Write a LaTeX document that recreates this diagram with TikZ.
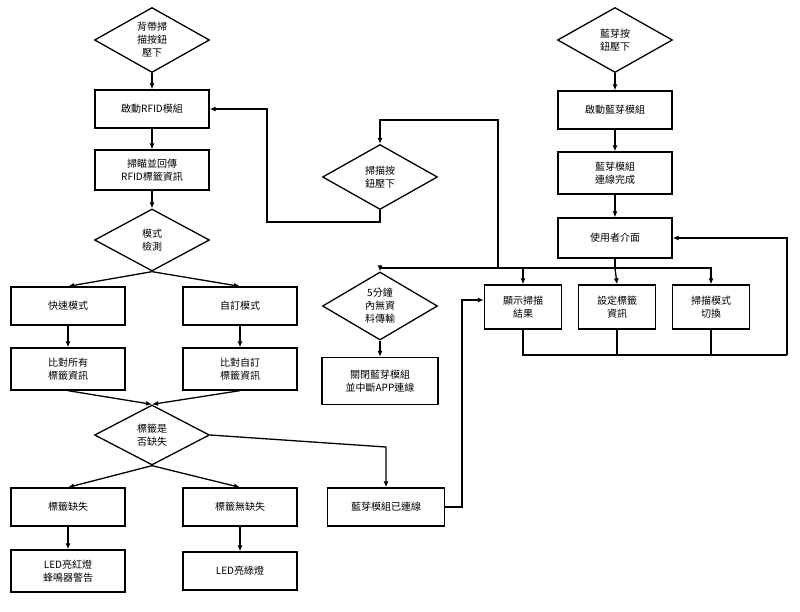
\documentclass[tikz,border=0pt]{standalone}
\usepackage{fontspec}
\setmainfont{Noto Sans CJK TC}
\usetikzlibrary{shapes.geometric,arrows.meta}
\begin{document}
\begin{tikzpicture}[x=1pt,y=-1pt,line width=1.3pt,
 box/.style={draw,rectangle,minimum width=114pt,minimum height=38pt,align=center,font=\fontsize{10}{13}\selectfont,inner sep=1pt},
 sbox/.style={box,minimum width=77pt,minimum height=44pt},
 dia/.style={draw,diamond,aspect=1.75,minimum width=115pt,minimum height=65pt,align=center,font=\fontsize{10}{13}\selectfont,inner sep=0pt},
 arr/.style={-{Latex[length=6pt,width=5pt]}}]
\useasboundingbox (0,0) rectangle (800,611);
\node[dia] (d1) at (152,40) {背帶掃\\描按鈕\\壓下};
\node[box] (b1) at (152,109) {啟動RFID模組};
\node[box,minimum height=40pt] (b2) at (152,170) {掃瞄並回傳\\RFID標籤資訊};
\node[dia,minimum height=62pt] (d2) at (152,240) {模式\\檢測};
\node[box] (b3) at (68,306) {快速模式};
\node[box] (b4) at (240,306) {自訂模式};
\node[box,minimum height=42pt] (b5) at (68,369) {比對所有\\標籤資訊};
\node[box,minimum height=42pt] (b6) at (240,369) {比對自訂\\標籤資訊};
\node[dia,minimum height=60pt] (d3) at (152,435) {標籤是\\否缺失};
\node[box] (b7) at (68,507) {標籤缺失};
\node[box] (b8) at (240,507) {標籤無缺失};
\node[box,minimum height=42pt] (b9) at (68,571) {LED亮紅燈\\蜂鳴器警告};
\node[box] (b10) at (240,571) {LED亮綠燈};
\node[box,minimum width=117pt] (b11) at (386,507) {藍芽模組已連線};
\node[dia] (d4) at (380,177) {掃描按\\鈕壓下};
\node[dia,minimum height=68pt] (d5) at (380,306) {5分鐘\\內無資\\料傳輸};
\node[box,minimum width=116pt,minimum height=47pt] (b12) at (380,381) {關閉藍芽模組\\並中斷APP連線};
\node[dia] (d6) at (615,40) {藍芽按\\鈕壓下};
\node[box] (b13) at (615,110) {啟動藍芽模組};
\node[box,minimum height=42pt] (b14) at (615,173) {藍芽模組\\連線完成};
\node[box,minimum height=40pt] (b15) at (615,238) {使用者介面};
\node[sbox] (s1) at (523,307) {顯示掃描\\結果};
\node[sbox] (s2) at (617,307) {設定標籤\\資訊};
\node[sbox] (s3) at (711,307) {掃描模式\\切換};
\coordinate (bus) at (615,268);
\draw[arr] (d1) -- (b1);
\draw[arr] (b1) -- (b2);
\draw[arr] (b2) -- (d2);
\draw[arr] (d2.south) -- (b3.north);
\draw[arr] (d2.south) -- (b4.north);
\draw[arr] (b5.south) -- (d3.north);
\draw[arr] (b6.south) -- (d3.north);
\draw[arr] (b3) -- (b5);
\draw[arr] (b4) -- (b6);
\draw[arr] (d3.south) -- (b7.north);
\draw[arr] (d3.south) -- (b8.north);
\draw[arr] (b7) -- (b9);
\draw[arr] (b8) -- (b10);
\draw[arr] (d3.east) -- (386,447) -- (b11.north);
\draw[arr] (b11.east) -- (462,507) -- (462,300) -- (s1.west|-462,300);
\draw[arr] (d4.south) -- (380,222) -- (267,222) -- (267,109) -- (b1.east);
\draw[arr] (d6) -- (b13);
\draw[arr] (b13) -- (b14);
\draw[arr] (b14) -- (b15);
\draw (b15.south) -- (bus);
\draw[arr] (bus) -- (d5.north|-bus) -- (d5.north);
\draw[arr] (bus) -- (s1.north|-bus) -- (s1.north);
\draw[arr] (bus) -- (s2.north);
\draw[arr] (bus) -- (s3.north|-bus) -- (s3.north);
\draw[arr] (498,268) -- (498,120) -- (380,120) -- (d4.north);
\draw[arr] (d5) -- (b12);
\draw (s1.south) -- (523,355) -- (787,355);
\draw (s2.south) -- (617,355);
\draw (s3.south) -- (711,355);
\draw[arr] (787,355) -- (787,238) -- (b15.east);
\end{tikzpicture}
\end{document}
